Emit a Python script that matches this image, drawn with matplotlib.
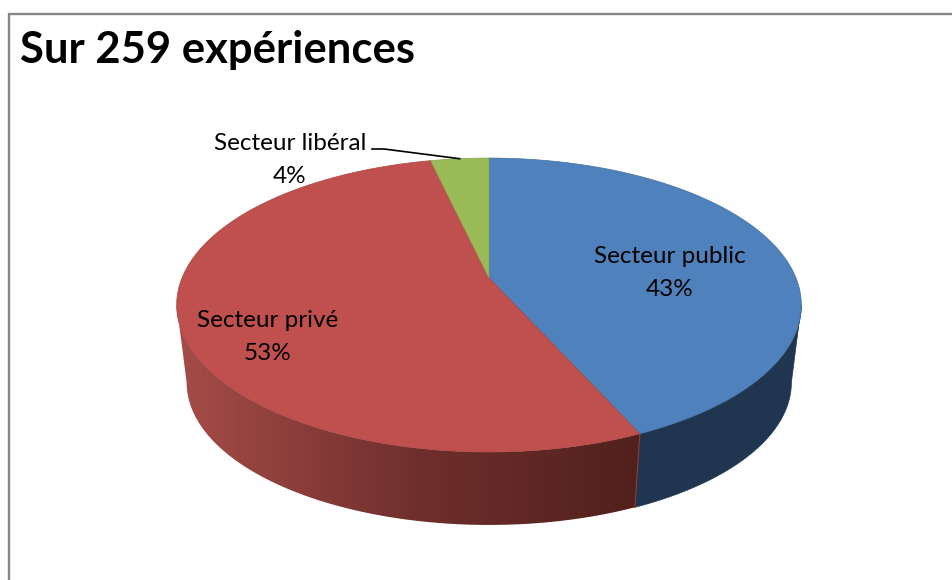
import matplotlib
matplotlib.use('Agg')
import matplotlib.pyplot as plt
import numpy as np

from matplotlib.colors import LinearSegmentedColormap
from matplotlib.patches import Polygon

plt.rcParams['font.family'] = ['Lato', 'DejaVu Sans']

TITLE = 'Sur 259 expériences'
labels = ['Secteur public', 'Secteur privé', 'Secteur libéral']
percents = [43.3, 53.1, 3.6]
top_colors = ['#4F81BD', '#C0504D', '#9BBB59']
edge_colors = ['#44709F', '#A94643', '#88A54D']

# perspective of the pie, in pixels of the picture
CX = 489
APEX_TOP = 278
APEX_BOTTOM = 356.5
A_TOP = 307
B_TOP = 142
SHRINK = 0.968
K = 0.184
WIDEST = np.arccos(-K)  # where the rim is widest on screen


def rim(t, bottom=False):
    # t is in radians, clockwise from the back of the pie
    u = np.sin(t)
    v = -np.cos(t)
    d = 1 - K * v
    if bottom:
        return CX + SHRINK * A_TOP * u / d, APEX_BOTTOM + SHRINK * B_TOP * v / d
    return CX + A_TOP * u / d, APEX_TOP + B_TOP * v / d


def arc(t0, t1, bottom=False):
    ts = np.linspace(t0, t1, 300)
    x, y = rim(ts, bottom)
    return np.column_stack([x, y])


def side(t0, t1):
    return np.vstack([arc(t0, t1), arc(t0, t1, True)[::-1]])


fig = plt.figure(figsize=(9.52, 5.8), dpi=100)
ax = fig.add_axes([0, 0, 1, 1])
ax.set_xlim(0, 952)
ax.set_ylim(580, 0)
ax.axis('off')

# chart frame, only the top and left sides are in the picture
ax.plot([9, 9, 952], [580, 14, 14], color='#868686', linewidth=1.7, solid_joinstyle='miter')

ends = np.cumsum(percents) / 100 * 2 * np.pi
starts = ends - np.array(percents) / 100 * 2 * np.pi

# side of the pie
side_blue = side(WIDEST, ends[0])
ax.add_patch(Polygon(side_blue, closed=True, facecolor='#1F3550', edgecolor='#1F3550', linewidth=0.5, zorder=2))

side_red = side(ends[0], 2 * np.pi - WIDEST)
red_clip = Polygon(side_red, closed=True, facecolor='none', edgecolor='none', zorder=3)
ax.add_patch(red_clip)
red_cmap = LinearSegmentedColormap.from_list('side', ['#A64C48', '#6F2F2D', '#4F1F1A'])
grad = ax.imshow(np.linspace(0, 1, 256)[None, :], cmap=red_cmap, extent=(176, 660, 580, 0), aspect='auto', zorder=3)
grad.set_clip_path(red_clip)
ax.set_xlim(0, 952)
ax.set_ylim(580, 0)

# thin lighter line where red meets blue on the side
x0, y0 = rim(ends[0])
x1, y1 = rim(ends[0], True)
ax.plot([x0, x1], [y0, y1], color='#8A3A36', linewidth=0.8, zorder=4)

# top face
for i in range(len(percents)):
    pts = np.vstack([[CX, APEX_TOP], arc(starts[i], ends[i])])
    ax.add_patch(Polygon(pts, closed=True, facecolor=top_colors[i], edgecolor=edge_colors[i], linewidth=0.5, zorder=5))

# labels
text_size = 17.5
ax.text(670, 273, '%s\n%.0f%%' % (labels[0], percents[0]), ha='center', va='center', fontsize=text_size,
        linespacing=1.68, color='black', zorder=6)
ax.text(268, 337, '%s\n%.0f%%' % (labels[1], percents[1]), ha='center', va='center', fontsize=text_size,
        linespacing=1.68, color='black', zorder=6)
ax.text(290, 160, '%s\n%.0f%%' % (labels[2], percents[2]), ha='center', va='center', fontsize=text_size,
        linespacing=1.68, color='black', zorder=6)

# leader line for the small slice
lx, ly = rim((starts[2] + ends[2]) / 2)
ax.plot([372, 384, lx], [149, 149, ly], color='black', linewidth=1.2, zorder=6)

ax.text(20, 63, TITLE, ha='left', va='baseline', fontsize=31.4, fontweight='bold', color='black')

fig.savefig('out.png', dpi=100)
